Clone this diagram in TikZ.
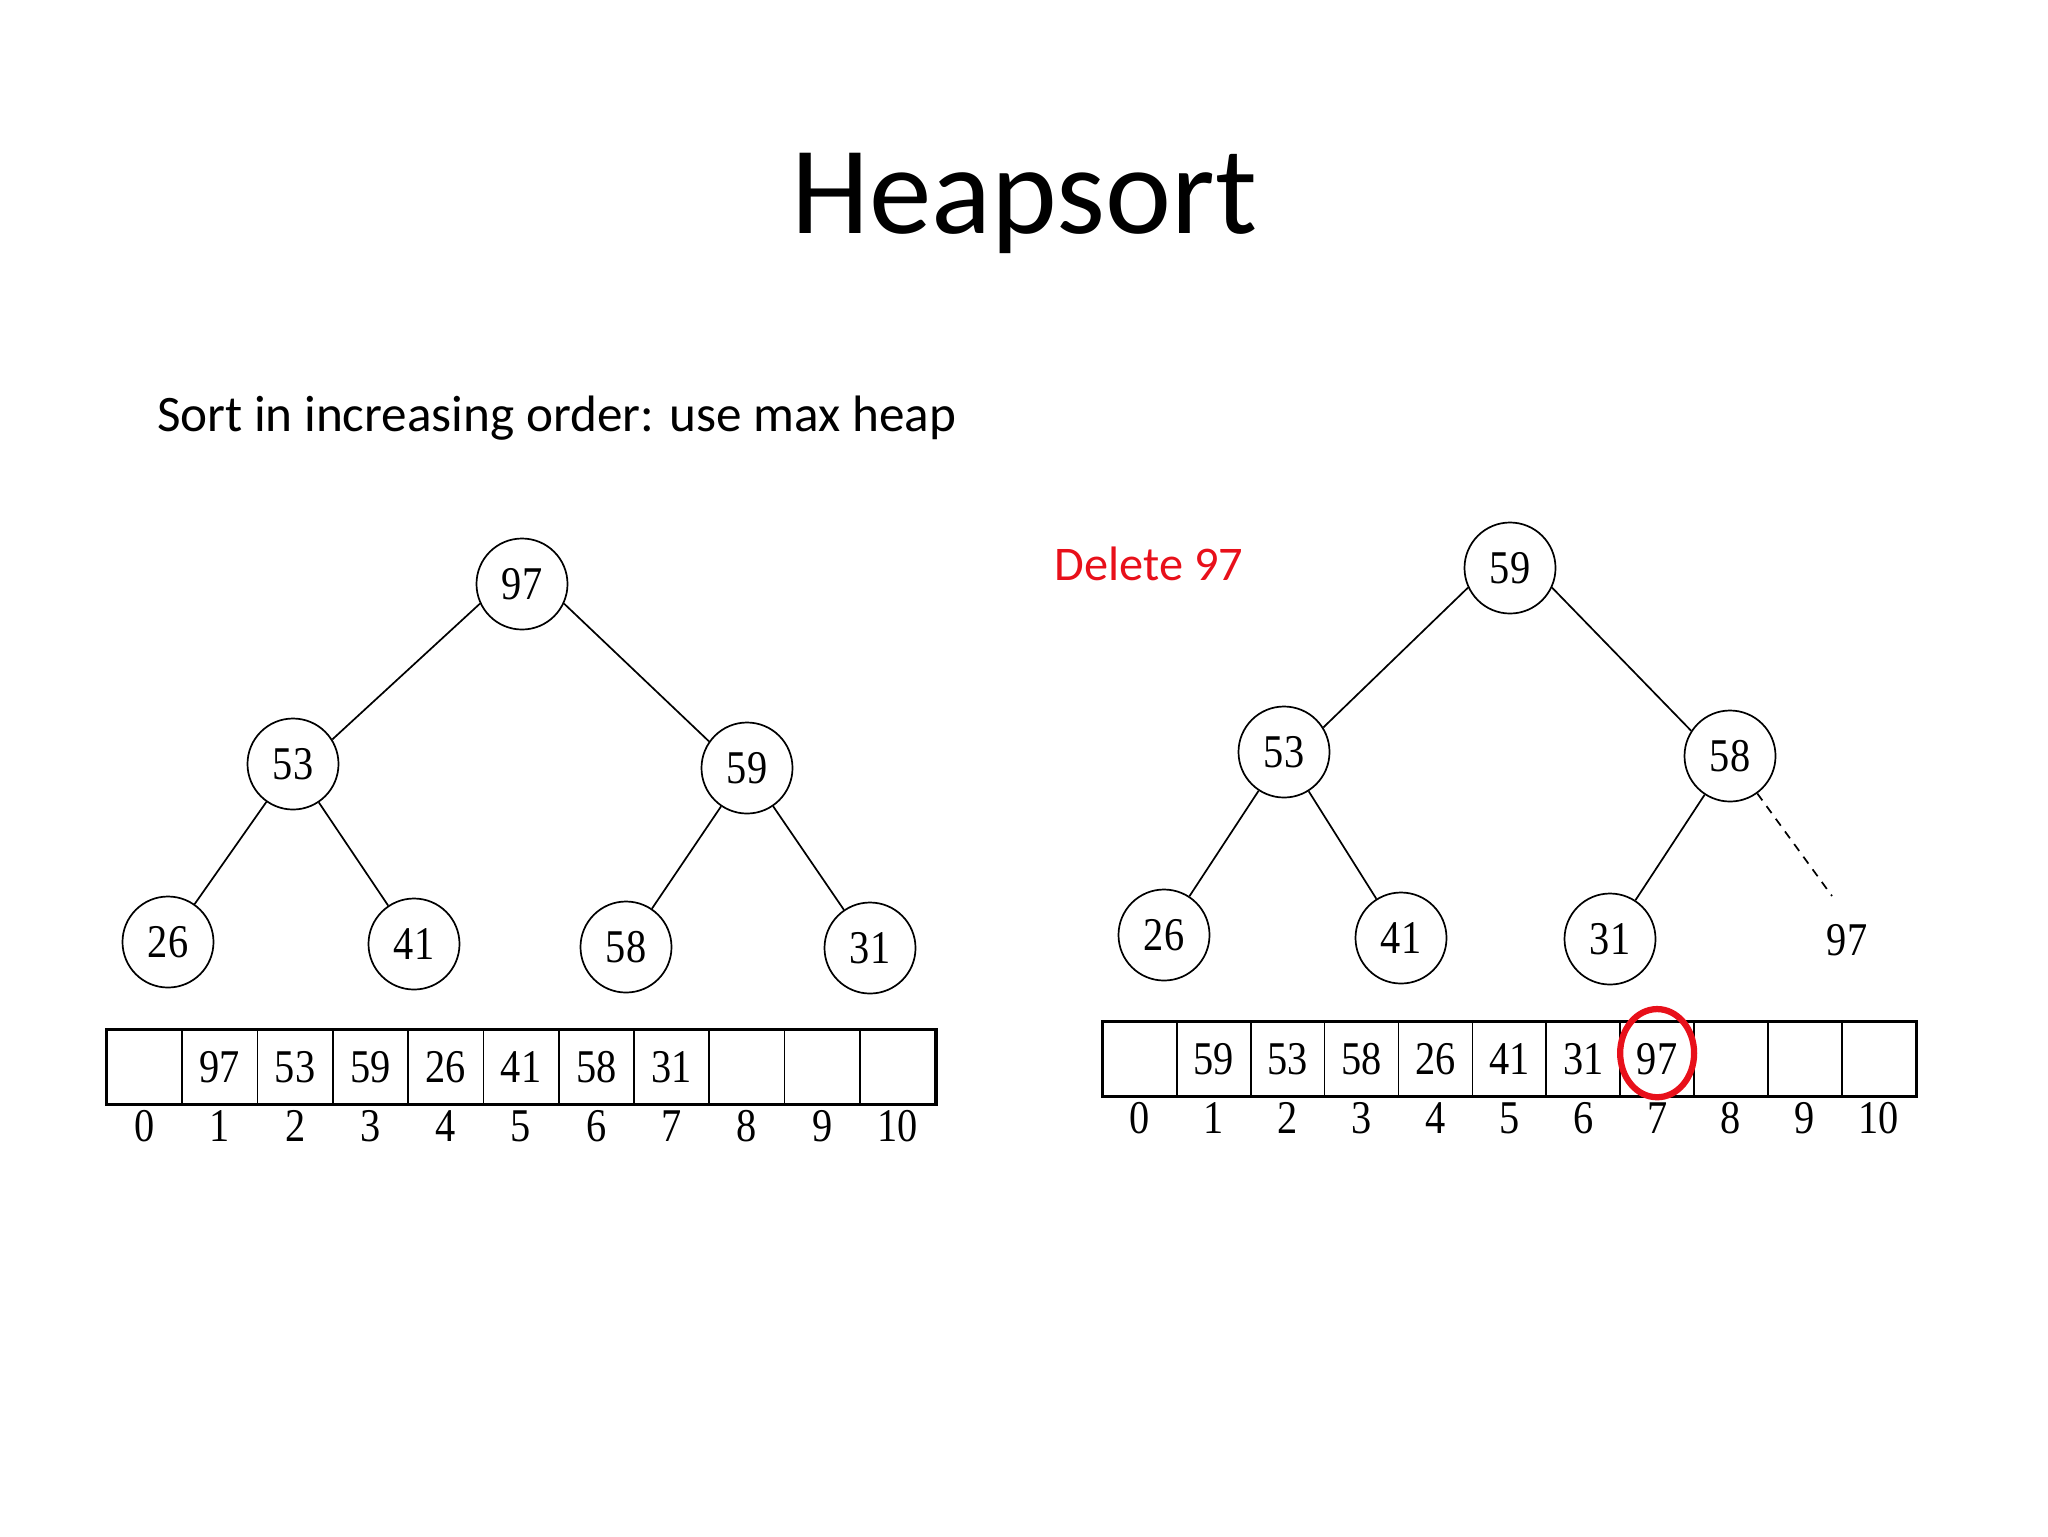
\documentclass[tikz,border=0pt]{standalone}
\usepackage{fontspec}
\setmainfont{Liberation Serif}
\newfontfamily\slidefont{Carlito}
\newfontfamily\scanfont[FakeStretch=0.86]{Liberation Serif}
\usetikzlibrary{positioning}
\definecolor{hpred}{HTML}{E8101A}

\begin{document}
\begin{tikzpicture}[
  x=0.3516pt, y=-0.3516pt,
  key/.style={draw, circle, minimum size=32pt, inner sep=0pt, line width=0.6pt,
    font=\scanfont\fontsize{16.5}{16.5}\selectfont},
  cell/.style={draw, minimum width=#1, minimum height=26pt, inner sep=0pt,
    line width=0.6pt, anchor=north west, font=\scanfont\fontsize{16.5}{16.5}\selectfont},
  idx/.style={inner sep=0pt, font=\scanfont\fontsize{16.5}{16.5}\selectfont},
  edge/.style={line width=0.6pt},
  slide/.style={font=\slidefont\fontsize{18}{18}\selectfont}
]
  \useasboundingbox (0,0) rectangle (2048,1536);

  % --- Titles ---
  \node[font=\slidefont\fontsize{44}{44}\selectfont] (title) at (1024,203) {Heapsort};
  \node[slide, anchor=west] (sub) at (147,418) {Sort in increasing order: use max heap};
  \node[slide, font=\slidefont\fontsize{17}{17}\selectfont, text=hpred] (del) at (1149,564) {Delete 97};

  % --- Left heap ---
  \node[key] (l97) at (522,584) {97};
  \node[key] (l53) at (293,764) {53};
  \node[key] (l59) at (747,768) {59};
  \node[key] (l26) at (168,942) {26};
  \node[key] (l41) at (414,944) {41};
  \node[key] (l58) at (626,947) {58};
  \node[key] (l31) at (870,948) {31};

  \draw[edge] (l97.205) -- (l53.32);
  \draw[edge] (l97.335) -- (l59.145);
  \draw[edge] (l53) -- (l26);
  \draw[edge] (l53) -- (l41);
  \draw[edge] (l59) -- (l58);
  \draw[edge] (l59) -- (l31);

  % --- Right heap ---
  \node[key] (r59) at (1510,568) {59};
  \node[key] (r53) at (1284,752) {53};
  \node[key] (r58) at (1730,756) {58};
  \node[key] (r26) at (1164,935) {26};
  \node[key] (r41) at (1401,938) {41};
  \node[key] (r31) at (1610,939) {31};
  \node[idx] (r97) at (1847,940) {97};
  \coordinate (d97) at (1832,896);

  \draw[edge] (r59.205) -- (r53.32);
  \draw[edge] (r59.335) -- (r58.147);
  \draw[edge] (r53) -- (r26);
  \draw[edge] (r53) -- (r41);
  \draw[edge] (r58) -- (r31);
  \draw[edge, dash pattern=on 3pt off 2.5pt] (r58) -- (d97);

  % --- Left array ---
  \foreach \v [count=\i from 0] in {{},97,53,59,26,41,58,31,{},{},{}} {
    \node[cell=26.5pt] (la\i) at (106+\i*75.3,1029) {\v};
    \node[idx, below=1.8pt of la\i] (li\i) {\i};
  }
  \draw[line width=1pt] (la0.north west) rectangle (la10.south east);

  % --- Right array ---
  \foreach \v [count=\i from 0] in {{},59,53,58,26,41,31,97,{},{},{}} {
    \node[cell=26pt] (ra\i) at (1102+\i*73.9,1021) {\v};
    \node[idx, below=1.8pt of ra\i] (ri\i) {\i};
  }
  \draw[line width=1pt] (ra0.north west) rectangle (ra10.south east);

  % --- Mark on deleted key ---
  \draw[hpred, line width=2.2pt] ([yshift=2pt]ra7.center) ellipse [x radius=13pt, y radius=15.5pt];

\end{tikzpicture}
\end{document}
